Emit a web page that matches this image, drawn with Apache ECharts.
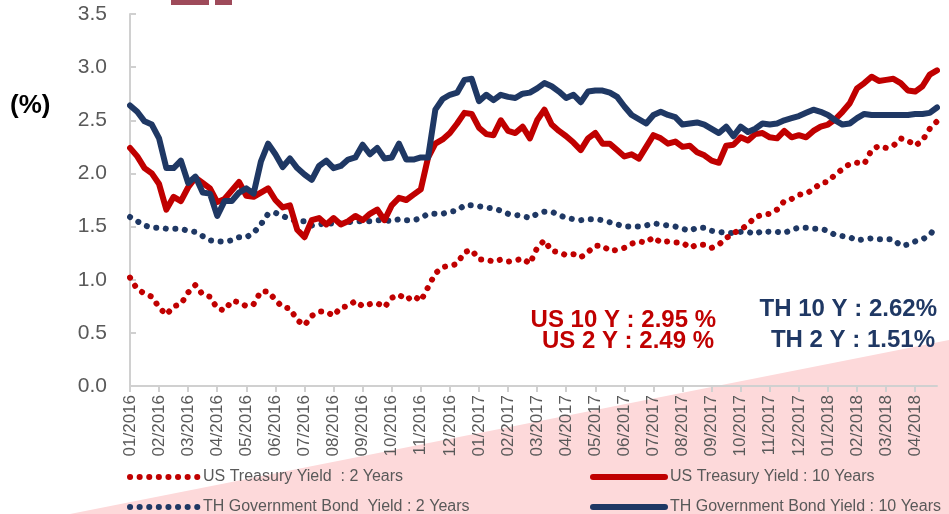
<!DOCTYPE html>
<html>
<head>
<meta charset="utf-8">
<script src="https://cdn.jsdelivr.net/npm/echarts@6/dist/echarts.min.js"></script>
<style>
html,body{margin:0;padding:0;background:#fff;}
#chart{width:949px;height:514px;}
</style>
</head>
<body>
<div id="chart"></div>
<script>
// Month tick labels (4 weekly observations per month)
const monthLabels = ['01/2016','02/2016','03/2016','04/2016','05/2016','06/2016','07/2016','08/2016','09/2016','10/2016','11/2016','12/2016',
  '01/2017','02/2017','03/2017','04/2017','05/2017','06/2017','07/2017','08/2017','09/2017','10/2017','11/2017','12/2017',
  '01/2018','02/2018','03/2018','04/2018'];
const weeksPerMonth = 4;

const seriesNames = ['US Treasury Yield  : 2 Years','US Treasury Yield : 10 Years','TH Government Bond  Yield : 2 Years','TH Government Bond Yield : 10 Years'];

const us2y = [1.02,0.91,0.87,0.84,0.74,0.67,0.75,0.77,0.88,0.95,0.86,0.84,0.73,0.71,0.80,0.79,0.75,0.77,0.89,0.89,
  0.81,0.74,0.73,0.62,0.57,0.66,0.70,0.70,0.66,0.74,0.75,0.80,0.75,0.77,0.78,0.74,0.83,0.86,0.81,0.85,
  0.80,0.93,1.06,1.12,1.13,1.15,1.26,1.28,1.19,1.19,1.17,1.19,1.17,1.18,1.20,1.15,1.30,1.37,1.27,1.26,
  1.23,1.24,1.21,1.26,1.32,1.32,1.27,1.28,1.30,1.34,1.36,1.35,1.40,1.35,1.36,1.35,1.35,1.30,1.33,1.33,
  1.30,1.33,1.39,1.44,1.47,1.52,1.59,1.61,1.62,1.66,1.74,1.76,1.80,1.81,1.85,1.91,1.92,1.99,2.04,2.09,
  2.10,2.09,2.22,2.26,2.24,2.26,2.33,2.31,2.26,2.31,2.42,2.49];

const us10y = [2.24,2.16,2.05,2.00,1.90,1.66,1.78,1.74,1.87,1.96,1.91,1.86,1.73,1.76,1.84,1.92,1.79,1.78,1.82,1.86,
  1.75,1.68,1.70,1.47,1.40,1.56,1.58,1.52,1.58,1.52,1.55,1.60,1.56,1.62,1.66,1.56,1.70,1.77,1.75,1.80,
  1.85,2.15,2.28,2.32,2.38,2.47,2.57,2.56,2.43,2.37,2.36,2.50,2.40,2.38,2.44,2.33,2.50,2.60,2.46,2.40,
  2.35,2.29,2.22,2.33,2.38,2.28,2.28,2.22,2.16,2.18,2.14,2.25,2.36,2.33,2.28,2.30,2.25,2.26,2.20,2.17,
  2.12,2.10,2.26,2.27,2.34,2.31,2.37,2.38,2.34,2.33,2.40,2.34,2.36,2.34,2.40,2.44,2.46,2.51,2.58,2.66,
  2.80,2.85,2.91,2.87,2.88,2.89,2.85,2.78,2.77,2.82,2.93,2.97];

const th2y = [1.59,1.55,1.51,1.49,1.49,1.48,1.48,1.48,1.46,1.45,1.41,1.37,1.36,1.36,1.37,1.40,1.40,1.44,1.52,1.62,
  1.63,1.60,1.57,1.55,1.55,1.51,1.52,1.53,1.53,1.53,1.54,1.55,1.55,1.55,1.56,1.56,1.55,1.57,1.56,1.56,
  1.58,1.62,1.62,1.62,1.64,1.65,1.70,1.70,1.69,1.68,1.67,1.65,1.62,1.61,1.60,1.58,1.62,1.64,1.64,1.61,
  1.58,1.57,1.56,1.57,1.57,1.56,1.54,1.52,1.50,1.50,1.50,1.51,1.53,1.52,1.51,1.50,1.48,1.46,1.49,1.49,
  1.46,1.45,1.44,1.44,1.45,1.45,1.43,1.46,1.45,1.45,1.44,1.47,1.49,1.49,1.48,1.48,1.46,1.42,1.41,1.40,
  1.37,1.38,1.39,1.38,1.38,1.38,1.32,1.33,1.36,1.38,1.42,1.51];

const th10y = [2.64,2.58,2.49,2.46,2.33,2.05,2.05,2.12,1.91,1.97,1.82,1.81,1.60,1.74,1.74,1.82,1.86,1.81,2.11,2.28,
  2.18,2.06,2.14,2.05,1.99,1.94,2.07,2.12,2.05,2.07,2.13,2.15,2.27,2.18,2.24,2.14,2.15,2.28,2.13,2.13,
  2.15,2.15,2.60,2.70,2.74,2.76,2.88,2.89,2.68,2.74,2.69,2.74,2.72,2.71,2.75,2.76,2.80,2.85,2.82,2.77,
  2.71,2.74,2.67,2.77,2.78,2.78,2.76,2.72,2.63,2.55,2.51,2.47,2.55,2.58,2.55,2.53,2.46,2.47,2.48,2.46,
  2.42,2.38,2.44,2.35,2.44,2.39,2.42,2.47,2.46,2.47,2.50,2.52,2.54,2.57,2.60,2.58,2.55,2.50,2.46,2.47,
  2.52,2.56,2.55,2.55,2.55,2.55,2.55,2.55,2.56,2.56,2.57,2.62];

const yTicks = {min: 0, max: 3.5, interval: 0.5};

const RED = '#c00000';
const NAVY = '#1f3864';
const GRAY = '#595959';
const FONT = 'Liberation Sans, Arial, sans-serif';

// category table built from month labels
const categories = [];
monthLabels.forEach(m => { for (let k = 0; k < weeksPerMonth; k++) categories.push(m + '|' + k); });

const chart = echarts.init(document.getElementById('chart'));

const dotted = {width: 6, type: [0.1, 9.5], cap: 'round'};
const solid = {width: 6, cap: 'round', join: 'round'};

function legendItem(name, left, top, itemWidth) {
  return {
    orient: 'horizontal', left: left, top: top, padding: 0, itemHeight: 6, itemWidth: itemWidth,
    data: [name],
    lineStyle: {width: 'inherit', type: 'inherit', cap: 'inherit'},
    itemStyle: {opacity: 0},
    textStyle: {color: GRAY, fontSize: 16, lineHeight: 16, fontFamily: FONT}
  };
}

chart.setOption({
  animation: false,
  backgroundColor: '#ffffff',
  textStyle: {fontFamily: FONT},
  grid: {left: 130, right: 12, top: 14, bottom: 128, containLabel: false},
  graphic: [
    {type: 'polygon', z: -10, silent: true, shape: {points: [[70, 514], [949, 340], [949, 514]]}, style: {fill: '#fdd9da'}},
    {type: 'rect', silent: true, shape: {x: 171, y: 0, width: 38, height: 5}, style: {fill: '#9e4a5a'}},
    {type: 'rect', silent: true, shape: {x: 215, y: 0, width: 17, height: 5}, style: {fill: '#9e4a5a'}},
    {type: 'text', left: 10, top: 93, style: {text: '(%)', fontSize: 26, fontWeight: 'bold', fill: '#000', fontFamily: FONT}},
    {type: 'text', x: 716, y: 320, style: {text: 'US 10 Y : 2.95 %', fontSize: 24, fontWeight: 'bold', fill: RED, align: 'right', verticalAlign: 'middle', fontFamily: FONT}},
    {type: 'text', x: 714, y: 341, style: {text: 'US 2 Y : 2.49 %', fontSize: 24, fontWeight: 'bold', fill: RED, align: 'right', verticalAlign: 'middle', fontFamily: FONT}},
    {type: 'text', x: 937, y: 309, style: {text: 'TH 10 Y : 2.62%', fontSize: 24, fontWeight: 'bold', fill: NAVY, align: 'right', verticalAlign: 'middle', fontFamily: FONT}},
    {type: 'text', x: 935, y: 340, style: {text: 'TH 2 Y : 1.51%', fontSize: 24, fontWeight: 'bold', fill: NAVY, align: 'right', verticalAlign: 'middle', fontFamily: FONT}}
  ],
  legend: [
    legendItem(seriesNames[0], 127, 469, 68),
    legendItem(seriesNames[2], 127, 499, 68),
    legendItem(seriesNames[1], 590, 469, 72),
    legendItem(seriesNames[3], 590, 499, 72)
  ],
  xAxis: {
    type: 'category',
    data: categories,
    boundaryGap: false,
    axisLine: {lineStyle: {color: '#d0d0d0', width: 2}},
    axisTick: {show: true, interval: weeksPerMonth - 1, length: 6, lineStyle: {color: '#d0d0d0', width: 2}},
    axisLabel: {interval: weeksPerMonth - 1, rotate: 90, margin: 9, color: GRAY, fontSize: 17, fontFamily: FONT,
      formatter: v => v.split('|')[0]},
    splitLine: {show: false}
  },
  yAxis: {
    type: 'value',
    min: yTicks.min, max: yTicks.max, interval: yTicks.interval,
    axisLine: {show: true, lineStyle: {color: '#d0d0d0', width: 2}},
    axisTick: {show: true, inside: true, length: 6, lineStyle: {color: '#d0d0d0', width: 2}},
    axisLabel: {margin: 23, color: GRAY, fontSize: 21, fontFamily: FONT, formatter: v => v.toFixed(1)},
    splitLine: {show: false}
  },
  series: [
    {name: seriesNames[2], type: 'line', data: th2y, symbol: 'none', color: NAVY, lineStyle: Object.assign({color: NAVY}, dotted), z: 2},
    {name: seriesNames[0], type: 'line', data: us2y, symbol: 'none', color: RED, lineStyle: Object.assign({color: RED}, dotted), z: 3},
    {name: seriesNames[1], type: 'line', data: us10y, symbol: 'none', color: RED, lineStyle: Object.assign({color: RED}, solid), z: 4},
    {name: seriesNames[3], type: 'line', data: th10y, symbol: 'none', color: NAVY, lineStyle: Object.assign({color: NAVY}, solid), z: 5}
  ]
});
</script>
</body>
</html>
